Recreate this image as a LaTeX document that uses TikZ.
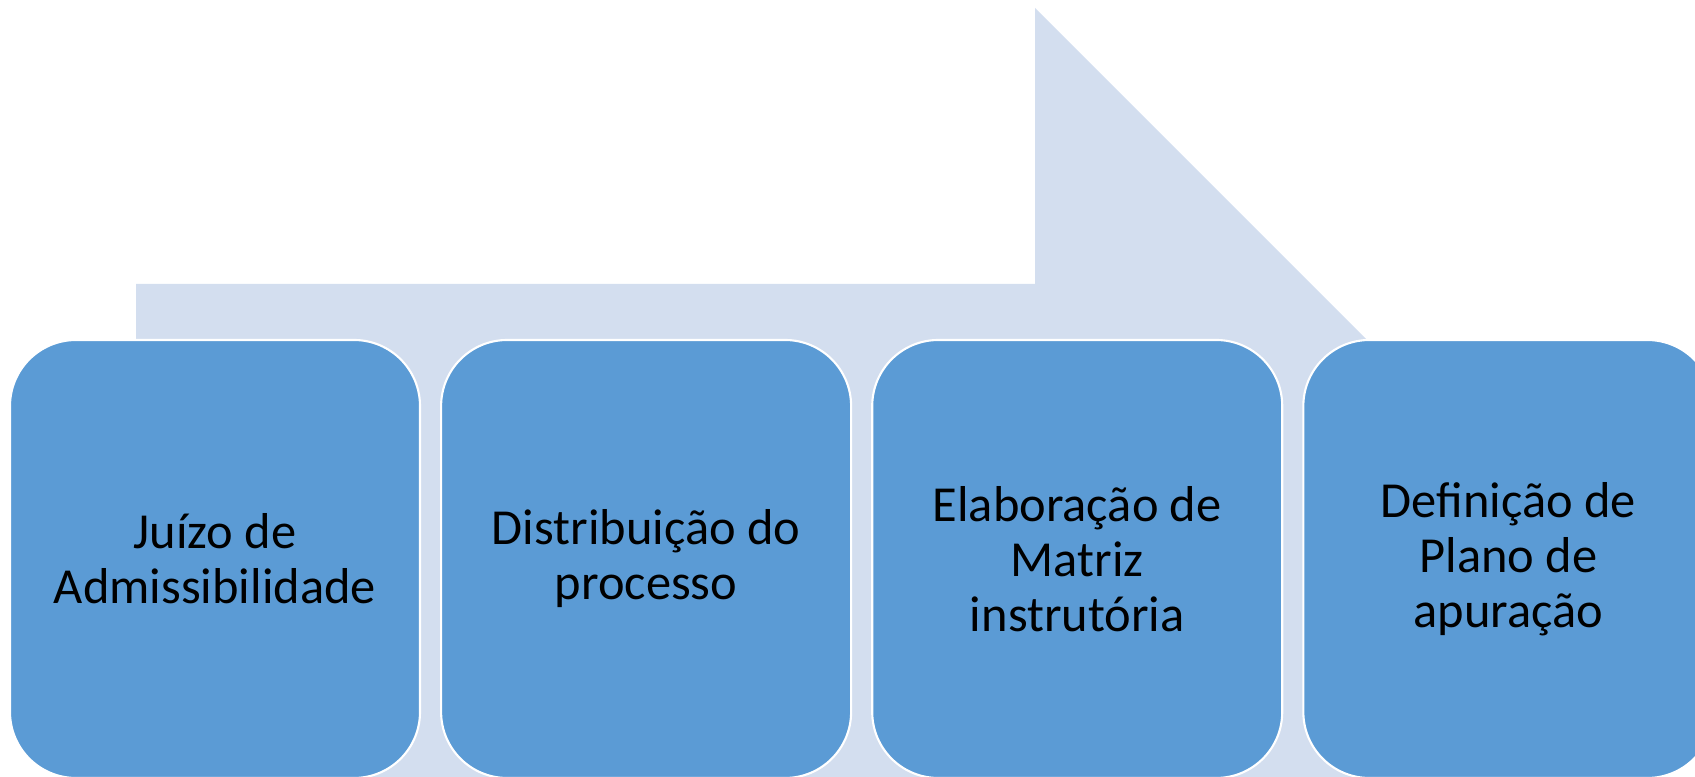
\documentclass[tikz,border=0pt]{standalone}
\usepackage{fontspec}
\setmainfont{Carlito}
\usetikzlibrary{positioning}
\definecolor{setaclara}{HTML}{D3DEEF}
\definecolor{caixaazul}{HTML}{5B9BD5}
\tikzset{
    seta/.style = {
        fill = setaclara,
        draw = none,
        },
    etapa/.style = {
        fill = caixaazul,
        draw = white,
        line width = 1.2pt,
        rounded corners = 1.32cm,
        minimum width = 8.2cm,
        minimum height = 8.76cm,
        align = center,
        text = black,
        font = \fontsize{28.7}{31.3}\selectfont,
        },
}

\begin{document}
\begin{tikzpicture}[node distance=0.38cm]
            \useasboundingbox (0,0) rectangle (33.9,15.54);
            \clip (0,0) rectangle (33.9,15.54);
            \fill[seta] (2.72,9.86) -- (20.70,9.86) -- (20.70,15.38) -- (31.72,4.36)
                -- (20.70,-6.66) -- (20.70,-1.14) -- (2.72,-1.14) -- cycle;

            \node[etapa] (admiss) at (4.30,4.36) {Juízo de\\Admissibilidade};
            \node[etapa, right=of admiss] (distrib) {Distribuição do\\processo};
            \node[etapa, right=of distrib] (matriz) {Elaboração de\\Matriz\\instrutória};
            \node[etapa, right=of matriz] (plano) {Definição de\\Plano de\\apuração};
        \end{tikzpicture}
\end{document}
